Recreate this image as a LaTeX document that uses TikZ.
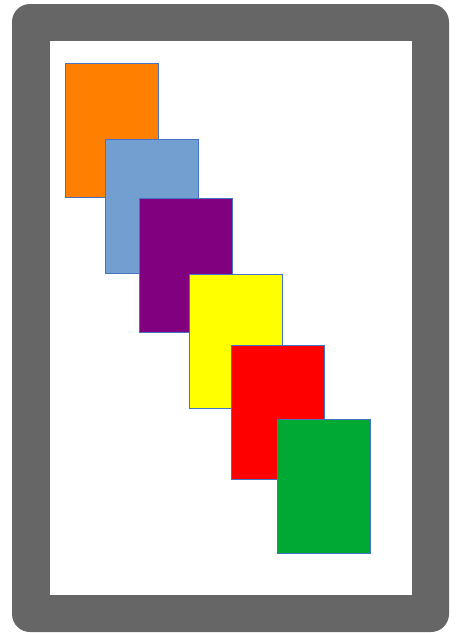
\documentclass[tikz,border=0pt]{standalone}
\usepackage{tikz}
\usetikzlibrary{positioning}

\definecolor{framegray}{RGB}{102,102,102}
\definecolor{cardedge}{RGB}{68,114,196}
\definecolor{cardorange}{RGB}{255,128,0}
\definecolor{cardblue}{RGB}{114,159,207}
\definecolor{cardpurple}{RGB}{128,0,128}
\definecolor{cardyellow}{RGB}{255,255,0}
\definecolor{cardred}{RGB}{255,0,0}
\definecolor{cardgreen}{RGB}{0,169,51}

\begin{document}
\begin{tikzpicture}[
    x=1pt, y=-1pt,
    card/.style={rectangle, draw=cardedge, line width=0.9pt, anchor=north west,
                 minimum width=93.6pt, minimum height=134pt, inner sep=0pt}
]
    \useasboundingbox (0,0) rectangle (459,633);

    % frame
    \fill[framegray, rounded corners=18pt] (12,4) rectangle (449,632);
    \fill[white] (50,41) rectangle (412,595);

    % cards
    \node[card, fill=cardorange] (orange) at (64.5,62.8) {};
    \node[card, fill=cardblue] (blue) at (104.5,138.8) {};
    \node[card, fill=cardpurple] (purple) at (138.5,197.5) {};
    \node[card, fill=cardyellow] (yellow) at (188.5,273.5) {};
    \node[card, fill=cardred] (red) at (230.5,345.3) {};
    \node[card, fill=cardgreen] (green) at (276.5,418.8) {};
\end{tikzpicture}
\end{document}
